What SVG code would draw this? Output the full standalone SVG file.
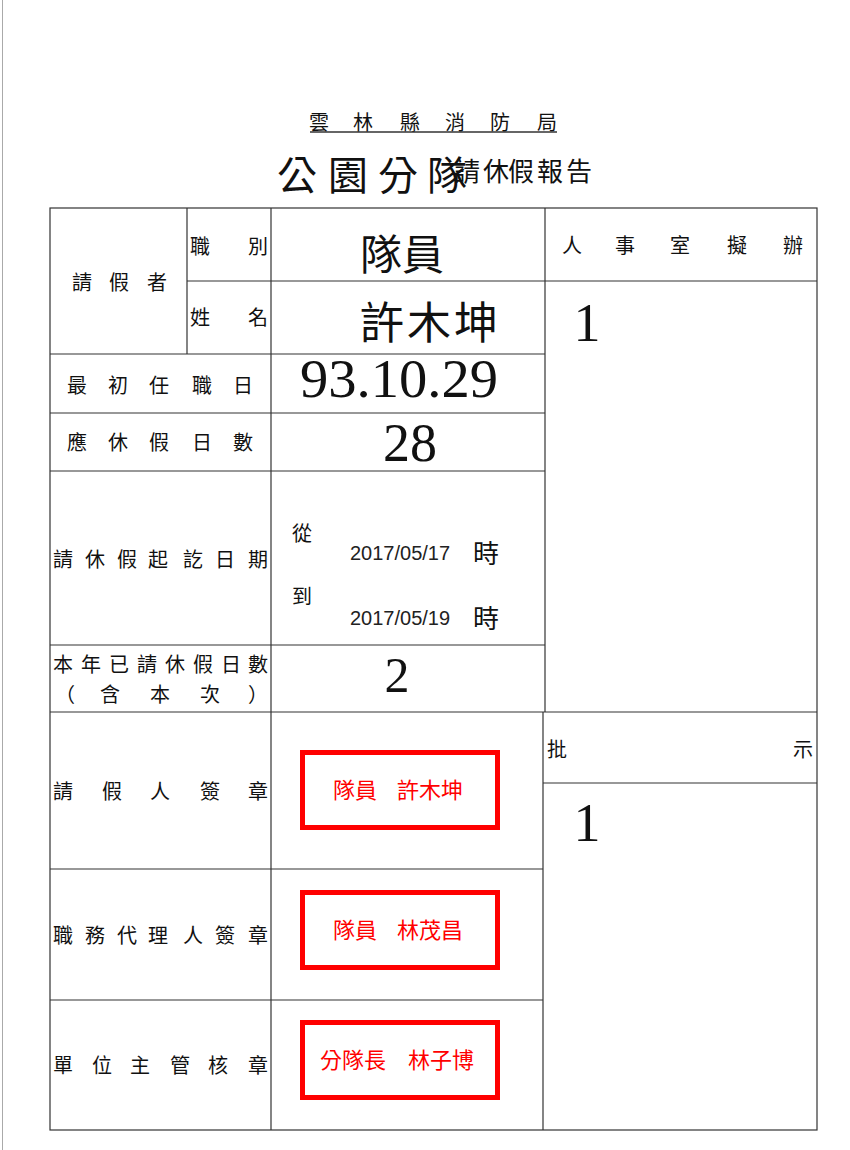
<svg xmlns="http://www.w3.org/2000/svg" width="850" height="1150" viewBox="0 0 850 1150">
<style>
.ln{stroke:#333;stroke-width:1.2;fill:none}
.lb{font-family:"Noto Sans CJK TC","Noto Sans CJK SC",sans-serif;font-size:20px;fill:#111;text-anchor:middle}
.big{font-family:"Noto Sans CJK TC",sans-serif;fill:#111;text-anchor:middle}
.num{font-family:"Liberation Serif","Times New Roman",serif;fill:#111;text-anchor:middle}
.date{font-family:"Liberation Sans",Arial,sans-serif;font-size:20px;fill:#222}
.red{font-family:"Noto Sans CJK TC",sans-serif;font-size:22px;fill:#ff0000}
.stamp{fill:none;stroke:#ff0000;stroke-width:5}
</style>
<rect x="0" y="0" width="850" height="1150" fill="#ffffff"/>
<line x1="2.5" y1="0" x2="2.5" y2="1150" stroke="#aaa" stroke-width="1"/>

<g id="title">
  <text class="big" font-size="20" y="130" x="319 363 410 455 500 547">雲林縣消防局</text>
  <line x1="310" y1="132" x2="557" y2="132" stroke="#333" stroke-width="1.5"/>
  <text class="big" font-size="40" y="190" x="297 348 398 447">公園分隊</text>
  <text class="big" font-size="26" y="181" x="467 496 521 550 579">請休假報告</text>
</g>

<g id="connectors">
  <rect class="ln" x="50" y="208" width="767" height="922"/>
  <line class="ln" x1="187" y1="208" x2="187" y2="354"/>
  <line class="ln" x1="271" y1="208" x2="271" y2="1130"/>
  <line class="ln" x1="545" y1="208" x2="545" y2="712"/>
  <line class="ln" x1="543" y1="712" x2="543" y2="1130"/>
  <line class="ln" x1="187" y1="281" x2="817" y2="281"/>
  <line class="ln" x1="50" y1="354" x2="545" y2="354"/>
  <line class="ln" x1="50" y1="413" x2="545" y2="413"/>
  <line class="ln" x1="50" y1="471" x2="545" y2="471"/>
  <line class="ln" x1="50" y1="645" x2="545" y2="645"/>
  <line class="ln" x1="50" y1="712" x2="817" y2="712"/>
  <line class="ln" x1="543" y1="783" x2="817" y2="783"/>
  <line class="ln" x1="50" y1="869" x2="543" y2="869"/>
  <line class="ln" x1="50" y1="1000" x2="543" y2="1000"/>
</g>

<g id="applicant">
  <text class="lb" y="290" x="82 119 157">請假者</text>
  <text class="lb" y="254" x="200 258">職別</text>
  <text class="lb" y="325" x="200 258">姓名</text>
  <text class="big" font-size="42" y="270" x="381 423">隊員</text>
  <text class="big" font-size="44" y="339" x="382 429 476">許木坤</text>
</g>

<g id="first-date">
  <text class="lb" y="393" x="77 118 159 202 243">最初任職日</text>
  <text class="num" font-size="54" x="399" y="397" textLength="198" lengthAdjust="spacingAndGlyphs">93.10.29</text>
</g>

<g id="leave-days">
  <text class="lb" y="450" x="77 118 159 202 243">應休假日數</text>
  <text class="num" font-size="54" x="410" y="461">28</text>
</g>

<g id="period">
  <text class="lb" y="567" x="63 95 127 158 193 225 258">請休假起訖日期</text>
  <text class="big" font-size="20" y="541" x="302">從</text>
  <text class="date" x="350" y="560">2017/05/17</text>
  <text class="big" font-size="26" y="563" x="486">時</text>
  <text class="big" font-size="20" y="604" x="302">到</text>
  <text class="date" x="350" y="625">2017/05/19</text>
  <text class="big" font-size="26" y="628" x="486">時</text>
</g>

<g id="used-days">
  <text class="lb" y="672" x="63 91 119 147 175 203 231 258">本年已請休假日數</text>
  <text class="lb" y="702" x="65 110 160 210 258">（含本次）</text>
  <text class="num" font-size="50" x="397" y="692">2</text>
</g>

<g id="applicant-sign">
  <text class="lb" y="799" x="63 112 160 210 258">請假人簽章</text>
  <rect class="stamp" x="302.5" y="752.5" width="195" height="75"/>
  <text class="red" x="333" y="798">隊員</text>
  <text class="red" x="397" y="798">許木坤</text>
</g>

<g id="deputy-sign">
  <text class="lb" y="943" x="63 95 127 158 193 225 258">職務代理人簽章</text>
  <rect class="stamp" x="302.5" y="892.5" width="195" height="75"/>
  <text class="red" x="333" y="938">隊員</text>
  <text class="red" x="397" y="938">林茂昌</text>
</g>

<g id="supervisor-sign">
  <text class="lb" y="1073" x="63 102 140 180 218 258">單位主管核章</text>
  <rect class="stamp" x="302.5" y="1022.5" width="195" height="75"/>
  <text class="red" x="320" y="1068">分隊長</text>
  <text class="red" x="408" y="1068">林子博</text>
</g>

<g id="personnel">
  <text class="lb" y="253" x="572 625 680 737 793">人事室擬辦</text>
  <text class="num" font-size="54" x="587" y="341">1</text>
</g>

<g id="approval">
  <text class="lb" y="757" x="557 803">批示</text>
  <text class="num" font-size="54" x="587" y="841">1</text>
</g>
</svg>
